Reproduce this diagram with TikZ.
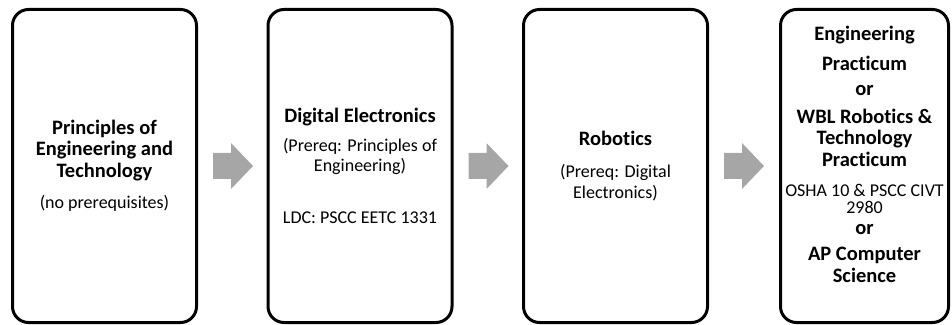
\documentclass[tikz,border=0pt]{standalone}
\usepackage{fontspec}
\setmainfont[Ligatures=NoCommon]{Carlito}
\usetikzlibrary{positioning}
\definecolor{arrowgray}{HTML}{A6A6A6}
\tikzset{
    course/.style={draw, line width=3pt, rounded corners=16pt, align=center, inner sep=0pt, minimum height=313pt},
    wide/.style={minimum width=184pt},
    narrow/.style={minimum width=168pt},
    next/.pic={\fill[arrowgray] (0,-13) -- (18,-13) -- (18,-23) -- (40,0) -- (18,23) -- (18,13) -- (0,13) -- cycle;}
}
\newcommand{\crs}[1]{{\bfseries\fontsize{20.5}{21.5}\selectfont #1}}
\newcommand{\nte}[1]{{\fontsize{18}{21.5}\selectfont #1}}

\begin{document}
\begin{tikzpicture}[x=1pt, y=1pt, font=\fontsize{18}{21.5}\selectfont]
                \useasboundingbox (0,0) rectangle (952,324);
                \node[course, wide] (pet) at (104.5,158) {\crs{Principles of}\\ \crs{Engineering and}\\ \crs{Technology}\\[10pt] \nte{(no prerequisites)}};
                \node[course, wide] (digital) at (360,158) {\crs{Digital Electronics}\\[7pt] \nte{(Prereq: Principles of}\\[-1.5pt] \nte{Engineering)}\\[31pt] \nte{LDC: PSCC EETC 1331}};
                \node[course, wide] (robotics) at (615.5,158) {\crs{Robotics}\\[11pt] \nte{(Prereq: Digital}\\[-0.5pt] \nte{Electronics)}};
                \node[course, narrow] (capstone) at (864.5,158) {\crs{Engineering}\\[8.5pt] \crs{Practicum}\\[3.5pt] \crs{or}\\[6.5pt] \crs{WBL Robotics \&}\\ \crs{Technology}\\ \crs{Practicum}\\[9pt] \nte{OSHA 10 \& PSCC CIVT}\\[-4.5pt] \nte{2980}\\[-0.5pt] \crs{or}\\[4.5pt] \crs{AP Computer}\\ \crs{Science}\\[2.5pt]\mbox{}};

                \pic at ([xshift=15pt]pet.east) {next};
                \pic at ([xshift=15pt]digital.east) {next};
                \pic at ([xshift=15pt]robotics.east) {next};
            \end{tikzpicture}
\end{document}
